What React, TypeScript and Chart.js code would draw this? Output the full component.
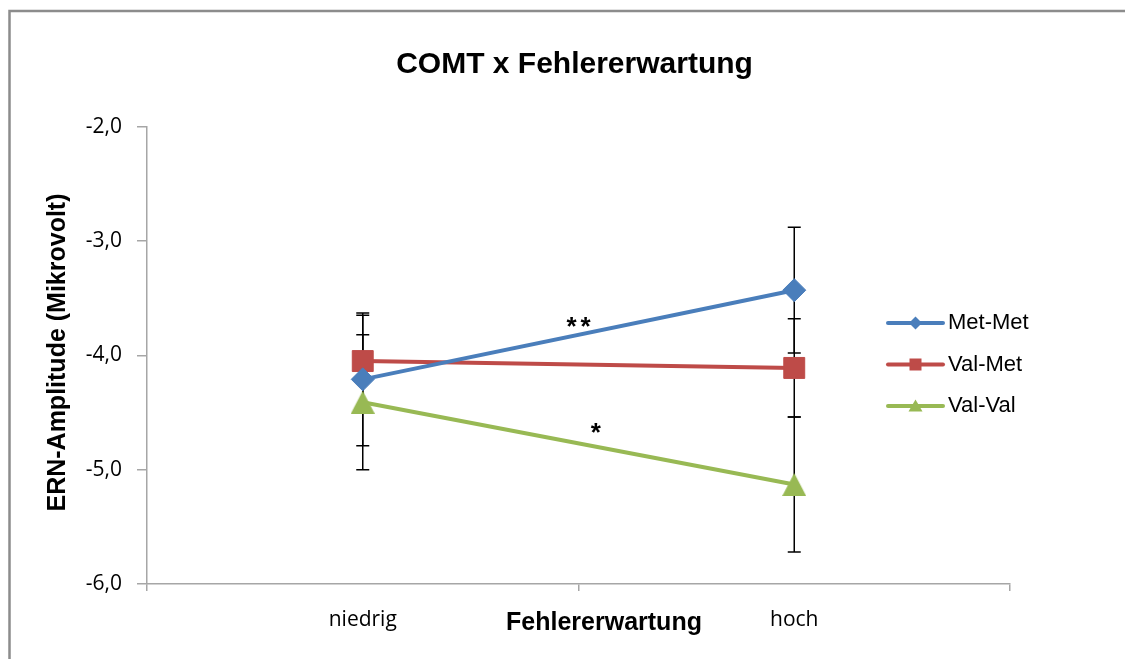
import { useEffect, useRef } from "react";
import { Chart, registerables } from "chart.js";

Chart.register(...registerables);

const categories = ["niedrig", "hoch"];
const seriesNames = ["Met-Met", "Val-Met", "Val-Val"];
const metMet = [-4.21, -3.43];
const valMet = [-4.05, -4.11];
const valVal = [-4.41, -5.13];
const metMetErr = [0.58, 0.55];
const valMetErr = [0.4, 0.43];
const valValErr = [0.59, 0.59];
const yMin = -6;
const yMax = -2;
const yStep = 1;
const seriesColors = ["#4A7EBB", "#BE4B48", "#98B954"];
const markerStyles = ["rectRot", "rect", "triangle"];
const markerRadii = [11.5, 14.8, 14];
const chartTitle = "COMT x Fehlererwartung";
const xTitle = "Fehlererwartung";
const yTitle = "ERN-Amplitude (Mikrovolt)";
const sigLabels = ["**", "*"];
const sigPos = [
  [0.5, -3.72],
  [0.52, -4.655],
];

const seriesValues = [metMet, valMet, valVal];
const seriesErrors = [metMetErr, valMetErr, valValErr];

const fmt = (v: number) => v.toFixed(1).replace(".", ",");

function makeTriangle(color: string, w: number, h: number) {
  const c = document.createElement("canvas");
  c.width = w;
  c.height = h;
  const g = c.getContext("2d")!;
  g.fillStyle = color;
  g.beginPath();
  g.moveTo(w / 2, 0);
  g.lineTo(w, h);
  g.lineTo(0, h);
  g.closePath();
  g.fill();
  return c;
}

export default function App() {
  const ref = useRef<HTMLCanvasElement | null>(null);

  useEffect(() => {
    document.body.style.overflow = "hidden";
    const canvas = ref.current;
    if (!canvas) return;

    const triImg = makeTriangle(seriesColors[2], 24, 23);

    const decor = {
      id: "decor",
      beforeDraw(chart: any) {
        const ctx = chart.ctx;
        ctx.save();
        ctx.fillStyle = "#ffffff";
        ctx.fillRect(0, 0, chart.width, chart.height);
        ctx.strokeStyle = "#8c8c8c";
        ctx.lineWidth = 2.5;
        ctx.beginPath();
        ctx.moveTo(1.5, chart.height + 5);
        ctx.lineTo(1.5, 3);
        ctx.lineTo(chart.width + 5, 3);
        ctx.stroke();
        ctx.restore();
      },
      beforeDatasetsDraw(chart: any) {
        const ctx = chart.ctx;
        const xs = chart.scales.x;
        const ys = chart.scales.y;
        ctx.save();
        ctx.strokeStyle = "#000000";
        ctx.lineWidth = 1.5;
        seriesValues.forEach((vals, i) => {
          vals.forEach((v, j) => {
            const e = seriesErrors[i][j];
            const x = xs.getPixelForValue(j);
            const y1 = ys.getPixelForValue(v + e);
            const y2 = ys.getPixelForValue(v - e);
            ctx.beginPath();
            ctx.moveTo(x, y1);
            ctx.lineTo(x, y2);
            ctx.moveTo(x - 6.5, y1);
            ctx.lineTo(x + 6.5, y1);
            ctx.moveTo(x - 6.5, y2);
            ctx.lineTo(x + 6.5, y2);
            ctx.stroke();
          });
        });
        ctx.restore();
      },
      afterDraw(chart: any) {
        const ctx = chart.ctx;
        const xs = chart.scales.x;
        const ys = chart.scales.y;
        ctx.save();
        ctx.fillStyle = "#000000";
        // title
        ctx.font = "bold 30px 'Liberation Sans', Arial, sans-serif";
        ctx.textAlign = "center";
        ctx.textBaseline = "alphabetic";
        ctx.fillText(chartTitle, 566.5, 65);
        // x title
        ctx.font = "bold 25px 'Liberation Sans', Arial, sans-serif";
        ctx.fillText(xTitle, 596, 622);
        // y title
        ctx.save();
        ctx.translate(50.5, 344.5);
        ctx.rotate(-Math.PI / 2);
        ctx.textBaseline = "middle";
        ctx.fillText(yTitle, 0, 0);
        ctx.restore();
        // significance labels
        ctx.font = "bold 26px 'Liberation Sans', Arial, sans-serif";
        ctx.textBaseline = "middle";
        ctx.textAlign = "center";
        sigLabels.forEach((t, i) => {
          const x = xs.left + (xs.right - xs.left) * sigPos[i][0];
          const y = ys.getPixelForValue(sigPos[i][1]);
          (ctx as any).letterSpacing = "4px";
          ctx.fillText(t, x + 2, y + 4);
          (ctx as any).letterSpacing = "0px";
        });
        // legend
        const lx0 = 880;
        const lx1 = 935;
        const tx = 940;
        const ly0 = 315;
        const dy = 41.5;
        ctx.font = "22px 'Liberation Sans', Arial, sans-serif";
        ctx.textAlign = "left";
        ctx.textBaseline = "middle";
        seriesNames.forEach((name, i) => {
          const y = ly0 + i * dy;
          const c = seriesColors[i];
          ctx.strokeStyle = c;
          ctx.lineWidth = 4;
          ctx.lineCap = "round";
          ctx.beginPath();
          ctx.moveTo(lx0, y);
          ctx.lineTo(lx1, y);
          ctx.stroke();
          ctx.fillStyle = c;
          const cx = (lx0 + lx1) / 2;
          ctx.beginPath();
          if (markerStyles[i] === "rectRot") {
            ctx.moveTo(cx, y - 6.5);
            ctx.lineTo(cx + 6.5, y);
            ctx.lineTo(cx, y + 6.5);
            ctx.lineTo(cx - 6.5, y);
            ctx.closePath();
          } else if (markerStyles[i] === "rect") {
            ctx.rect(cx - 6, y - 6, 12, 12);
          } else {
            ctx.moveTo(cx, y - 6.5);
            ctx.lineTo(cx + 7, y + 5.5);
            ctx.lineTo(cx - 7, y + 5.5);
            ctx.closePath();
          }
          ctx.fill();
          ctx.fillStyle = "#000000";
          ctx.fillText(name, tx, y);
        });
        ctx.restore();
      },
    };

    const tickFont = { family: "'Open Sans', sans-serif", size: 21 };

    const chart = new Chart(canvas, {
      type: "line",
      data: {
        labels: categories,
        datasets: seriesNames.map((name, i) => ({
          label: name,
          data: seriesValues[i],
          borderColor: seriesColors[i],
          backgroundColor: seriesColors[i],
          borderWidth: 4,
          pointStyle: (markerStyles[i] === "triangle" ? triImg : markerStyles[i]) as any,
          pointRadius: markerRadii[i],
          pointBorderWidth: 1,
          pointBorderColor: seriesColors[i],
          pointBackgroundColor: seriesColors[i],
          tension: 0,
        })),
      },
      options: {
        animation: false,
        responsive: false,
        maintainAspectRatio: false,
        layout: { padding: { left: 0, right: 123, top: 118.7, bottom: 0 } },
        plugins: {
          legend: { display: false },
          title: { display: false },
          tooltip: { enabled: false },
        },
        scales: {
          x: {
            type: "category",
            offset: true,
            grid: {
              offset: true,
              drawOnChartArea: false,
              drawTicks: true,
              tickLength: 7,
              color: "#a6a6a6",
              lineWidth: 1.5,
            },
            border: { color: "#a6a6a6", width: 1.5 },
            ticks: { font: tickFont, color: "#000000", padding: 16 },
            afterFit: (s: any) => {
              s.height = 75;
            },
          },
          y: {
            min: yMin,
            max: yMax,
            grid: {
              drawOnChartArea: false,
              drawTicks: true,
              tickLength: 10,
              color: "#a6a6a6",
              lineWidth: 1.5,
            },
            border: { color: "#a6a6a6", width: 1.5 },
            ticks: {
              stepSize: yStep,
              font: tickFont,
              color: "#000000",
              padding: 15,
              callback: (v: any) => fmt(Number(v)),
            },
            afterFit: (s: any) => {
              s.width = 139;
            },
          },
        },
      },
      plugins: [decor],
    });

    return () => chart.destroy();
  }, []);

  return (
    <div style={{ width: 1125, height: 651 }}>
      <canvas ref={ref} width={1125} height={651} style={{ display: "block", width: 1125, height: 651 }} />
    </div>
  );
}
